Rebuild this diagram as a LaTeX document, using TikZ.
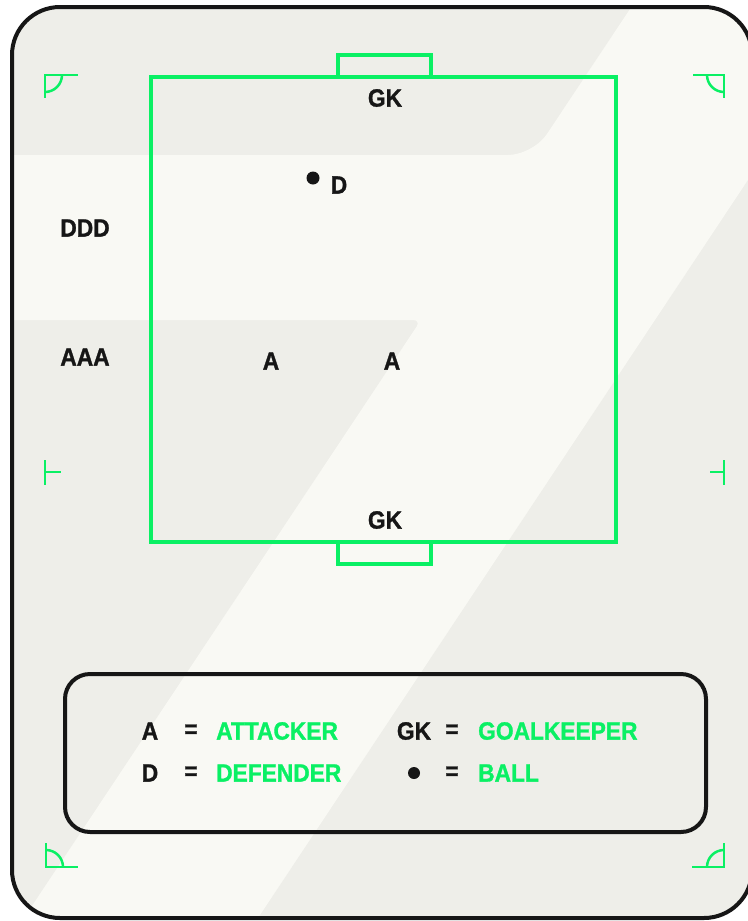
\documentclass[tikz,border=0pt]{standalone}
\usepackage{fontspec}
\setmainfont[FakeStretch=0.91, BoldFeatures={FakeBold=1.2}]{Liberation Sans}
\usepackage{xcolor}
\usepackage{tikz}
\usetikzlibrary{positioning}

\definecolor{pitch}{HTML}{0AF064}
\definecolor{ink}{HTML}{161616}
\definecolor{bggray}{HTML}{EEEEE9}
\definecolor{bglight}{HTML}{F9F9F4}

\tikzset{
    lbl/.style={font=\bfseries\fontsize{25}{25}\selectfont, text=ink, inner sep=0pt},
    key/.style={lbl, text=pitch, anchor=west},
    line/.style={draw=pitch, line width=4pt},
    fieldmark/.style={draw=pitch, line width=2.5pt},
    ball/.style={circle, fill=ink, inner sep=0pt, minimum size=12pt}
}

\begin{document}
\begin{tikzpicture}[x=1pt, y=-1pt]
    \useasboundingbox (0,0) rectangle (747,921);

    % Background
    \begin{scope}
        \clip[rounded corners=48pt] (12,7) rectangle (752,918);
        \fill[bggray] (0,0) rectangle (760,930);
        \fill[bglight, rounded corners=25pt] (0,155) -- (533,155)
            [sharp corners] -- (636,0) -- (801,0) -- (801,100) -- (250,930)
            -- (16,930) [rounded corners=8pt] -- (421,320) [sharp corners] -- (0,320) -- cycle;
    \end{scope}
    \draw[ink, line width=4pt, rounded corners=48pt] (12,7) rectangle (752,918);

    % Pitch
    \draw[line] (151,77) rectangle (616,542);
    \draw[line, line width=3.5pt] (338,77) -- (338,55) -- (431,55) -- (431,77);
    \draw[line, line width=3.5pt] (338,542) -- (338,564) -- (431,564) -- (431,542);

    % Corner marks
    \draw[fieldmark] (78,75) -- (45,75) -- (45,98);
    \draw[fieldmark] (45,92) arc[start angle=90, end angle=0, radius=17];
    \draw[fieldmark] (693,75) -- (724,75) -- (724,98);
    \draw[fieldmark] (707,75) arc[start angle=180, end angle=90, radius=17];
    \draw[fieldmark] (46,843) -- (46,867) -- (78,867);
    \draw[fieldmark] (46,850) arc[start angle=270, end angle=360, radius=17];
    \draw[fieldmark] (724,843) -- (724,867) -- (692,867);
    \draw[fieldmark] (724,850) arc[start angle=270, end angle=180, radius=17];

    % Halfway marks
    \draw[fieldmark] (45,460) -- (45,485);
    \draw[fieldmark] (45,472) -- (61,472);
    \draw[fieldmark] (724,460) -- (724,485);
    \draw[fieldmark] (710,472) -- (724,472);

    % Players
    \node (gktop) [lbl] at (385,98) {GK};
    \node (gkbot) [lbl] at (385,520) {GK};
    \node (bl) [ball, minimum size=13pt] at (313,178) {};
    \node (d) [lbl] at (339,185) {D};
    \node (ddd) [lbl] at (85,228) {DDD};
    \node (aaa) [lbl] at (85,357) {AAA};
    \node (a1) [lbl] at (271,361) {A};
    \node (a2) [lbl] at (392,361) {A};

    % Legend
    \draw[ink, line width=4pt, rounded corners=25pt] (65,674) rectangle (706,832);
    \node (ka) [lbl] at (150,731) {A};
    \node (kaeq) [lbl] at (191,731) {=};
    \node (katt) [key] at (216,731) {ATTACKER};
    \node (kd) [lbl] at (150,773) {D};
    \node (kdeq) [lbl] at (191,773) {=};
    \node (kdef) [key] at (216,773) {DEFENDER};
    \node (kgk) [lbl] at (414,731) {GK};
    \node (kgkeq) [lbl] at (452,731) {=};
    \node (kgoal) [key] at (478,731) {GOALKEEPER};
    \node (kb) [ball] at (414,773) {};
    \node (kbeq) [lbl] at (452,773) {=};
    \node (kball) [key] at (478,773) {BALL};
\end{tikzpicture}
\end{document}
